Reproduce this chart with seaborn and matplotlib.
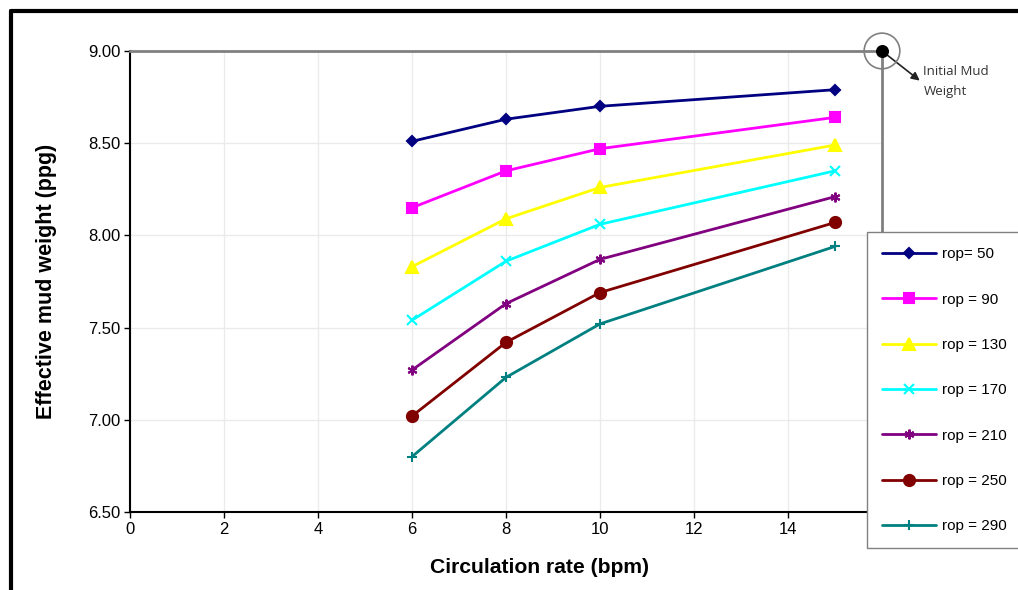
import numpy as np
import pandas as pd
import matplotlib.pyplot as plt
import seaborn as sns
from matplotlib.lines import Line2D

sns.set_theme(style="white")
plt.rcParams['font.family'] = ['Liberation Sans', 'DejaVu Sans']
plt.rcParams['text.color'] = 'black'
plt.rcParams['axes.labelcolor'] = 'black'
plt.rcParams['xtick.color'] = 'black'
plt.rcParams['ytick.color'] = 'black'

# data
rate = [6, 8, 10, 15]
labels = ['rop= 50', 'rop = 90', 'rop = 130', 'rop = 170', 'rop = 210', 'rop = 250', 'rop = 290']
rop_50 = [8.51, 8.63, 8.70, 8.79]
rop_90 = [8.15, 8.35, 8.47, 8.64]
rop_130 = [7.83, 8.09, 8.26, 8.49]
rop_170 = [7.54, 7.86, 8.06, 8.35]
rop_210 = [7.27, 7.63, 7.87, 8.21]
rop_250 = [7.02, 7.42, 7.69, 8.07]
rop_290 = [6.80, 7.23, 7.52, 7.94]
initial_rate = 16
initial_mw = 9.00

series = [rop_50, rop_90, rop_130, rop_170, rop_210, rop_250, rop_290]
colors = ['#000080', '#FF00FF', '#FFFF00', '#00FFFF', '#800080', '#800000', '#008080']
markers = ['D', 's', '^', 'x', (6, 2, 0), 'o', '+']
msizes = [5.5, 7, 8, 7, 7, 8, 7]

fig = plt.figure(figsize=(10.18, 5.90), dpi=100)
ax = fig.add_axes([0.1277, 0.1322, 0.8664 - 0.1277, 0.9136 - 0.1322])

for vals, lab, c, m, ms in zip(series, labels, colors, markers, msizes):
    df = pd.DataFrame({'rate': rate, 'mw': vals})
    sns.lineplot(data=df, x='rate', y='mw', color=c, marker=m, markersize=ms,
                 markeredgecolor=c, markeredgewidth=1.5, linewidth=2, label=lab, ax=ax)

ax.set_xlim(0, 16)
ax.set_ylim(6.5, 9.0)
ax.set_xticks(np.arange(0, 16, 2))
ax.set_yticks(np.arange(6.5, 9.01, 0.5))
ax.set_yticklabels([f'{v:.2f}' for v in np.arange(6.5, 9.01, 0.5)])
ax.grid(True, color='#ebebeb', linewidth=1)
ax.tick_params(axis='both', labelsize=12, length=4, width=1, direction='out',
               bottom=True, left=True, colors='black', pad=3)

ax.spines['left'].set_color('black')
ax.spines['bottom'].set_color('black')
ax.spines['left'].set_linewidth(1.5)
ax.spines['bottom'].set_linewidth(1.5)
ax.spines['top'].set_color('#808080')
ax.spines['right'].set_color('#808080')
ax.spines['top'].set_linewidth(2)
ax.spines['right'].set_linewidth(2)

ax.set_xlabel('Circulation rate (bpm)', fontsize=15.2, fontweight='bold')
ax.xaxis.set_label_coords(0.545, -0.10)
ax.set_ylabel('Effective mud weight (ppg)', fontsize=15.5, fontweight='bold', labelpad=22)

# initial mud weight marker
ax.scatter([initial_rate], [initial_mw], s=70, color='black', zorder=6, clip_on=False)
ax.scatter([initial_rate], [initial_mw], s=660, facecolor='none', edgecolor='#808080',
           linewidth=1.2, zorder=6, clip_on=False)
ax.annotate('', xy=(16.85, 8.83), xytext=(initial_rate, initial_mw),
            arrowprops=dict(arrowstyle='-|>', color='#222222', lw=1.2, mutation_scale=12),
            annotation_clip=False)
ax.text(16.88, 8.925, 'Initial Mud\nWeight', fontsize=9.5, color='#333333',
        ha='left', va='top', linespacing=1.75, family=['Open Sans', 'DejaVu Sans'])

leg = ax.legend(loc='upper left', bbox_to_anchor=(0.8517, 0.6068),
                bbox_transform=fig.transFigure, frameon=True, fancybox=False,
                edgecolor='#808080', fontsize=11, labelspacing=2.05, handlelength=3.5,
                handletextpad=0.4, borderpad=1.0, borderaxespad=0)
leg.get_frame().set_linewidth(1)
leg.get_frame().set_alpha(1)
leg.set_zorder(10)

# outer frame of the picture
fig.add_artist(Line2D([11 / 1018, 11 / 1018], [0, 1 - 11 / 590], color='black', lw=3))
fig.add_artist(Line2D([11 / 1018, 1], [1 - 11 / 590, 1 - 11 / 590], color='black', lw=3))

fig.savefig('out.png', dpi=100)
